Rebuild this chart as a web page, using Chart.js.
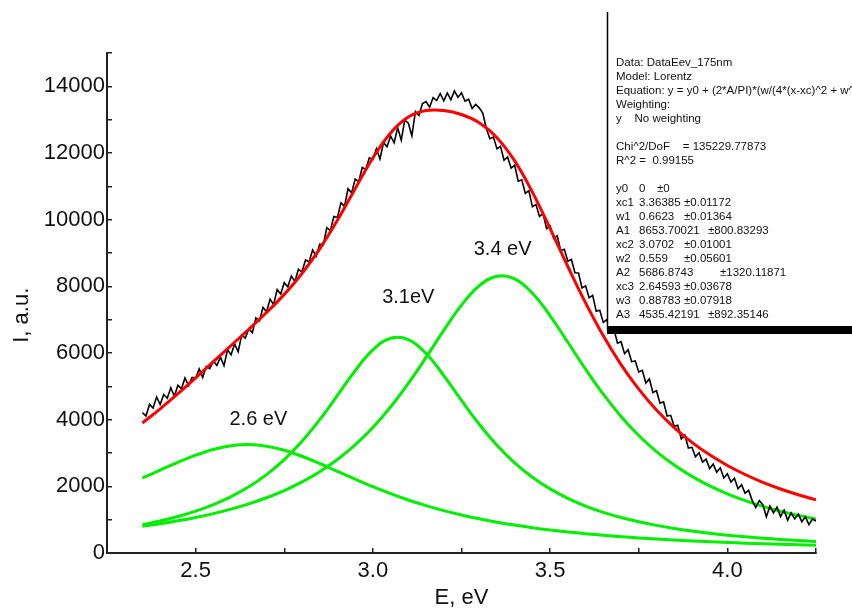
<!DOCTYPE html>
<html>
<head>
<meta charset="utf-8">
<script src="https://cdn.jsdelivr.net/npm/chart.js@4.4.1/dist/chart.umd.min.js"></script>
<style>
  html, body { margin: 0; padding: 0; background: #fff; }
  canvas { display: block; }
</style>
</head>
<body>
<canvas id="fitChart" width="852" height="609"></canvas>
<script>
// Lorentz fit, every 0.05 eV
const fitEnergy = [2.35, 2.40, 2.45, 2.50, 2.55, 2.60, 2.65, 2.70, 2.75, 2.80,
  2.85, 2.90, 2.95, 3.00, 3.05, 3.10, 3.15, 3.20, 3.25, 3.30,
  3.35, 3.40, 3.45, 3.50, 3.55, 3.60, 3.65, 3.70, 3.75, 3.80,
  3.85, 3.90, 3.95, 4.00, 4.05, 4.10, 4.15, 4.20, 4.25];
const fitTotal = [3901, 4326, 4780, 5255, 5740, 6225, 6713, 7214, 7759, 8385,
  9124, 9984, 10927, 11849, 12602, 13077, 13274, 13275, 13154, 12905,
  12460, 11763, 10826, 9732, 8595, 7504, 6516, 5653, 4915, 4290,
  3763, 3320, 2944, 2626, 2355, 2121, 1921, 1746, 1595];
const peak34 = [802, 878, 965, 1065, 1181, 1316, 1473, 1657, 1874, 2132,
  2440, 2807, 3245, 3767, 4380, 5086, 5867, 6679, 7436, 8018,
  8303, 8221, 7792, 7117, 6323, 5516, 4764, 4098, 3526, 3043,
  2637, 2298, 2013, 1774, 1572, 1400, 1254, 1128, 1020];
const peak31 = [848, 960, 1094, 1255, 1452, 1692, 1988, 2353, 2802, 3350,
  3999, 4727, 5468, 6094, 6443, 6402, 5986, 5324, 4577, 3861,
  3232, 2705, 2274, 1923, 1640, 1409, 1220, 1065, 936, 828,
  737, 660, 593, 536, 487, 444, 406, 373, 344];
const peak26 = [2251, 2488, 2721, 2935, 3107, 3217, 3252, 3204, 3083, 2903,
  2685, 2450, 2214, 1988, 1779, 1589, 1421, 1272, 1141, 1026,
  925, 837, 760, 692, 632, 579, 532, 490, 453, 419,
  389, 362, 338, 316, 296, 277, 261, 245, 231];

// measured spectrum, one value every 0.01 eV from 2.35 eV
const specStart = 2.35;
const specStep = 0.01;
const spectrum = [
  4210, 4109, 4458, 4348, 4677, 4456, 4753, 4640, 4956, 4703,
  5030, 4925, 5250, 5025, 5270, 5245, 5522, 5269, 5596, 5533,
  5760, 5627, 5874, 5621, 6098, 5945, 6273, 6040, 6538, 6446,
  6723, 6613, 7053, 6964, 7364, 7234, 7613, 7452, 7901, 7770,
  8109, 7984, 8309, 8145, 8510, 8435, 8793, 8731, 9088, 8906,
  9264, 9246, 9758, 9670, 10092, 10064, 10503, 10401, 10930, 10799,
  11217, 11141, 11566, 11510, 11855, 11809, 12130, 11820, 12311, 12191,
  12512, 12307, 12762, 12387, 12992, 12897, 12516, 13246, 13125, 13485,
  13544, 13374, 13664, 13575, 13785, 13565, 13801, 13597, 13862, 13668,
  13804, 13554, 13614, 13335, 13455, 13355, 13196, 12737, 12428, 12479,
  12130, 12201, 11782, 11882, 11543, 11633, 11156, 11198, 10791, 10873,
  10386, 10457, 10098, 10180, 9731, 9812, 9435, 9517, 9070, 9112,
  8755, 8807, 8409, 8400, 7952, 8014, 7656, 7729, 7251, 7284,
  6916, 7003, 6630, 6716, 6293, 6340, 5980, 6100, 5740, 5760,
  5430, 5480, 5100, 5220, 4810, 4870, 4493, 4535, 4108, 4130,
  3803, 3834, 3426, 3537, 3149, 3170, 2889, 3008, 2726, 2815,
  2534, 2668, 2423, 2557, 2252, 2376, 2130, 2244, 1927, 2051,
  1795, 1878, 1571, 1365, 1568, 1451, 1085, 1409, 1203, 1377,
  1091, 1284, 987, 1200, 1023, 1166, 942, 1088, 853, 1019,
  960];

// peak captions (energy, intensity)
const peakNames = ["2.6 eV", "3.1eV", "3.4 eV"];
const peakLabelE = [2.677, 3.100, 3.366];
const peakLabelI = [4000, 7670, 9115];

// fit report
const reportHeader = [
  "Data: DataEev_175nm",
  "Model: Lorentz",
  "Equation: y = y0 + (2*A/PI)*(w/(4*(x-xc)^2 + w^2))",
  "Weighting:",
  "y    No weighting",
  "",
  "Chi^2/DoF    = 135229.77873",
  "R^2 =  0.99155",
  ""
];
const paramNames = ["y0", "xc1", "w1", "A1", "xc2", "w2", "A2", "xc3", "w3", "A3"];
const paramValues = ["0", "3.36385", "0.6623", "8653.70021", "3.0702", "0.559", "5686.8743", "2.64593", "0.88783", "4535.42191"];
const paramErrors = ["±0", "±0.01172", "±0.01364", "±800.83293", "±0.01001", "±0.05601", "±1320.11871", "±0.03678", "±0.07918", "±892.35146"];

const FONT = 'Arial, "Liberation Sans", sans-serif';

function toPoints(xs, ys) {
  return ys.map((y, i) => ({ x: xs[i], y: y }));
}
const spectrumPoints = spectrum.map((y, i) => ({ x: Math.round((specStart + i * specStep) * 100) / 100, y: y }));

const peakLabelPlugin = {
  id: "peakLabels",
  afterDatasetsDraw(chart) {
    const ctx = chart.ctx;
    const xs = chart.scales.x, ys = chart.scales.y;
    ctx.save();
    ctx.font = "20px " + FONT;
    ctx.fillStyle = "#111";
    ctx.textAlign = "center";
    ctx.textBaseline = "middle";
    peakNames.forEach((name, i) => {
      ctx.fillText(name, xs.getPixelForValue(peakLabelE[i]), ys.getPixelForValue(peakLabelI[i]));
    });
    ctx.restore();
  }
};

const reportPlugin = {
  id: "fitReport",
  afterDraw(chart) {
    const ctx = chart.ctx;
    ctx.save();
    ctx.fillStyle = "#fff";
    ctx.fillRect(608, 12, 244, 315);
    ctx.strokeStyle = "#000";
    ctx.lineWidth = 1.5;
    ctx.beginPath();
    ctx.moveTo(607.5, 12);
    ctx.lineTo(607.5, 330);
    ctx.stroke();
    ctx.fillStyle = "#000";
    ctx.fillRect(607, 326, 245, 8);

    ctx.font = "11.5px " + FONT;
    ctx.fillStyle = "#111";
    ctx.textBaseline = "middle";
    let y = 63;
    reportHeader.forEach(line => {
      ctx.fillText(line, 616, y);
      y += 14;
    });
    const errX = [657, 684, 684, 708, 684, 684, 720, 684, 684, 708];
    paramNames.forEach((name, i) => {
      ctx.fillText(name, 616, y);
      ctx.fillText(paramValues[i], 639, y);
      ctx.fillText(paramErrors[i], errX[i], y);
      y += 14;
    });
    ctx.restore();
  }
};

const axisGrid = { drawOnChartArea: false, drawTicks: true, tickLength: -5, color: "#222", lineWidth: 1.5 };
const axisBorder = { display: true, color: "#222", width: 2 };

new Chart(document.getElementById("fitChart"), {
  type: "line",
  data: {
    datasets: [
      { label: "Fit", data: toPoints(fitEnergy, fitTotal), borderColor: "#ff0000", borderWidth: 3, tension: 0.4 },
      { label: "DataEev_175nm", data: spectrumPoints, borderColor: "#000", borderWidth: 1.6, tension: 0 },
      { label: "3.4 eV", data: toPoints(fitEnergy, peak34), borderColor: "#00f000", borderWidth: 3, tension: 0.4 },
      { label: "3.1 eV", data: toPoints(fitEnergy, peak31), borderColor: "#00f000", borderWidth: 3, tension: 0.4 },
      { label: "2.6 eV", data: toPoints(fitEnergy, peak26), borderColor: "#00f000", borderWidth: 3, tension: 0.4 }
    ]
  },
  options: {
    responsive: false,
    animation: false,
    devicePixelRatio: 1,
    elements: { point: { radius: 0 } },
    plugins: { legend: { display: false }, tooltip: { enabled: false } },
    layout: { padding: { top: 53, right: 36, left: 0, bottom: 0 } },
    scales: {
      x: {
        type: "linear",
        min: 2.25,
        max: 4.25,
        grid: axisGrid,
        border: axisBorder,
        ticks: {
          stepSize: 0.25,
          autoSkip: false,
          maxRotation: 0,
          includeBounds: false,
          padding: 10,
          color: "#111",
          font: { family: FONT, size: 22 },
          callback: v => Math.abs(v * 2 - Math.round(v * 2)) < 1e-6 ? v.toFixed(1) : ""
        },
        title: { display: true, text: "E, eV", color: "#111", font: { family: FONT, size: 22, lineHeight: 1 }, padding: { top: 0, bottom: 0 } },
        afterFit: scale => { scale.height = 56; }
      },
      y: {
        min: 0,
        max: 15000,
        grid: axisGrid,
        border: axisBorder,
        ticks: {
          stepSize: 1000,
          autoSkip: false,
          includeBounds: false,
          padding: 7,
          color: "#111",
          font: { family: FONT, size: 22 },
          callback: v => v % 2000 === 0 ? String(v) : ""
        },
        // trailing spaces move the visible title down to where the reference has it
        title: { display: true, text: "I, a.u.    ", color: "#111", font: { family: FONT, size: 22 }, padding: { top: 9, bottom: 0 } },
        afterFit: scale => { scale.width = 107; }
      }
    }
  },
  plugins: [peakLabelPlugin, reportPlugin]
});
</script>
</body>
</html>
